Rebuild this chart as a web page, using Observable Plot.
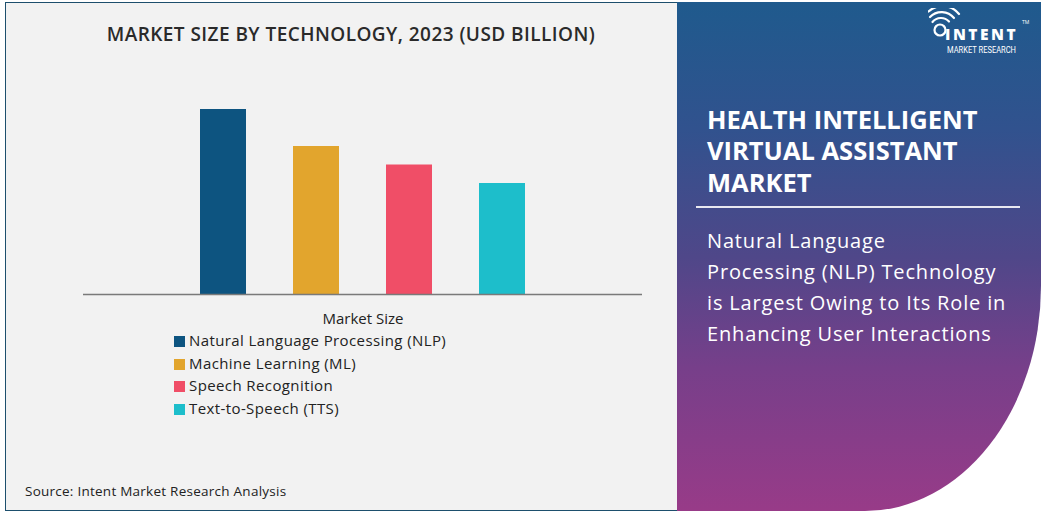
<!DOCTYPE html>
<html>
<head>
<meta charset="utf-8">
<script src="https://cdn.jsdelivr.net/npm/d3@7"></script>
<script src="https://cdn.jsdelivr.net/npm/@observablehq/plot@0.6"></script>
<style>
  html, body { margin: 0; padding: 0; background: #ffffff; }
  #root { position: relative; width: 1043px; height: 513px; overflow: hidden; font-family: "Open Sans", "DejaVu Sans", sans-serif; }
  #left { position: absolute; left: 5px; top: 2px; width: 671px; height: 507px; background: #f2f2f2; border: 1.5px solid #1d4f6d; }
  #right { position: absolute; left: 677px; top: 2px; width: 364px; height: 509px;
           background: linear-gradient(180deg, #1f5a8d 0%, #31528e 25%, #4f4789 50%, #773f8a 72%, #983b88 100%);
           border-bottom-right-radius: 176px 225px; }
  #title { position: absolute; left: 0; width: 702px; top: 21px; text-align: center; font-weight: 600; font-size: 19px; color: #2a2a2a; letter-spacing: 0.45px; }
  #chart { position: absolute; left: 0; top: 0; }
  #legTitle { position: absolute; left: 0; width: 726px; top: 308px; text-align: center; font-size: 15px; color: #222; }
  .leg { position: absolute; left: 174px; font-size: 15px; letter-spacing: 0.4px; color: #222; white-space: nowrap; }
  .sw { display: inline-block; width: 11px; height: 11px; margin-right: 4px; vertical-align: -1px; }
  #source { position: absolute; left: 25px; top: 482px; font-size: 13.5px; letter-spacing: 0.25px; color: #222; }
  .rt { position: absolute; left: 707px; color: #fff; white-space: nowrap; }
  .h { font-weight: 700; font-size: 25.5px; }
  .s { font-size: 20px; letter-spacing: 0.85px; }
  #sep { position: absolute; left: 696px; top: 206px; width: 324px; height: 1.5px; background: #e8e8f0; }
</style>
</head>
<body>
<div id="root">
  <div id="left"></div>
  <div id="right"></div>
  <div id="title">MARKET SIZE BY TECHNOLOGY, 2023 (USD BILLION)</div>
  <div id="chart"></div>
  <div id="legTitle"></div>
  <div id="legend"></div>
  <div id="source">Source: Intent Market Research Analysis</div>
  <div class="rt h" style="top:102px">HEALTH INTELLIGENT</div>
  <div class="rt h" style="top:133px">VIRTUAL ASSISTANT</div>
  <div class="rt h" style="top:165px">MARKET</div>
  <div id="sep"></div>
  <div class="rt s" style="top:227px">Natural Language</div>
  <div class="rt s" style="top:258px">Processing (NLP) Technology</div>
  <div class="rt s" style="top:289px">is Largest Owing to Its Role in</div>
  <div class="rt s" style="top:320px">Enhancing User Interactions</div>
  <svg id="logo" style="position:absolute;left:928px;top:8px" width="110" height="48" viewBox="0 0 110 48">
    <g fill="none" stroke="#ffffff" stroke-width="2.2" stroke-linecap="round">
      <circle cx="12" cy="22" r="5.5"/>
      <path d="M4.5 14 A11 11 0 0 1 21 13.5"/>
      <path d="M2 9 A16 16 0 0 1 26 10"/>
      <path d="M0.5 3.5 A21 21 0 0 1 31 6"/>
    </g>
    <text x="17" y="32" fill="#fff" font-family="Open Sans, sans-serif" font-weight="800" font-size="15.5" letter-spacing="2.5">INTENT</text>
    <text x="94" y="16" fill="#fff" font-family="Open Sans, sans-serif" font-size="5">TM</text>
    <text x="19" y="45" fill="#fff" font-family="Roboto, sans-serif" font-size="9" textLength="69" lengthAdjust="spacingAndGlyphs">MARKET RESEARCH</text>
  </svg>
</div>
<script>
const technologies = ["Natural Language Processing (NLP)", "Machine Learning (ML)", "Speech Recognition", "Text-to-Speech (TTS)"];
const marketSize = [0.50, 0.40, 0.35, 0.30];
const colors = ["#0d5480", "#e2a52d", "#f04e67", "#1dbecb"];
const seriesName = "Market Size";

const data = technologies.map((t, i) => ({tech: t, value: marketSize[i]}));

const chart = Plot.plot({
  width: 677,
  height: 300,
  marginTop: 109,
  marginBottom: 6,
  marginLeft: 83,
  marginRight: 35,
  style: {background: "transparent", overflow: "visible"},
  x: {domain: technologies, paddingInner: 0.505, paddingOuter: 1.2575, axis: null},
  y: {domain: [0, 0.5], axis: null},
  color: {domain: technologies, range: colors},
  marks: [
    Plot.barY(data, {x: "tech", y: "value", fill: "tech"}),
    Plot.ruleY([0], {stroke: "#7a7a7a", strokeWidth: 1.3})
  ]
});
document.getElementById("chart").appendChild(chart);

document.getElementById("legTitle").textContent = seriesName;
const leg = document.getElementById("legend");
technologies.forEach((t, i) => {
  const d = document.createElement("div");
  d.className = "leg";
  d.style.top = (330 + i * 22.5) + "px";
  const sw = document.createElement("span");
  sw.className = "sw";
  sw.style.background = chart.scale("color").apply(t);
  d.appendChild(sw);
  d.appendChild(document.createTextNode(t));
  leg.appendChild(d);
});
</script>
</body>
</html>
